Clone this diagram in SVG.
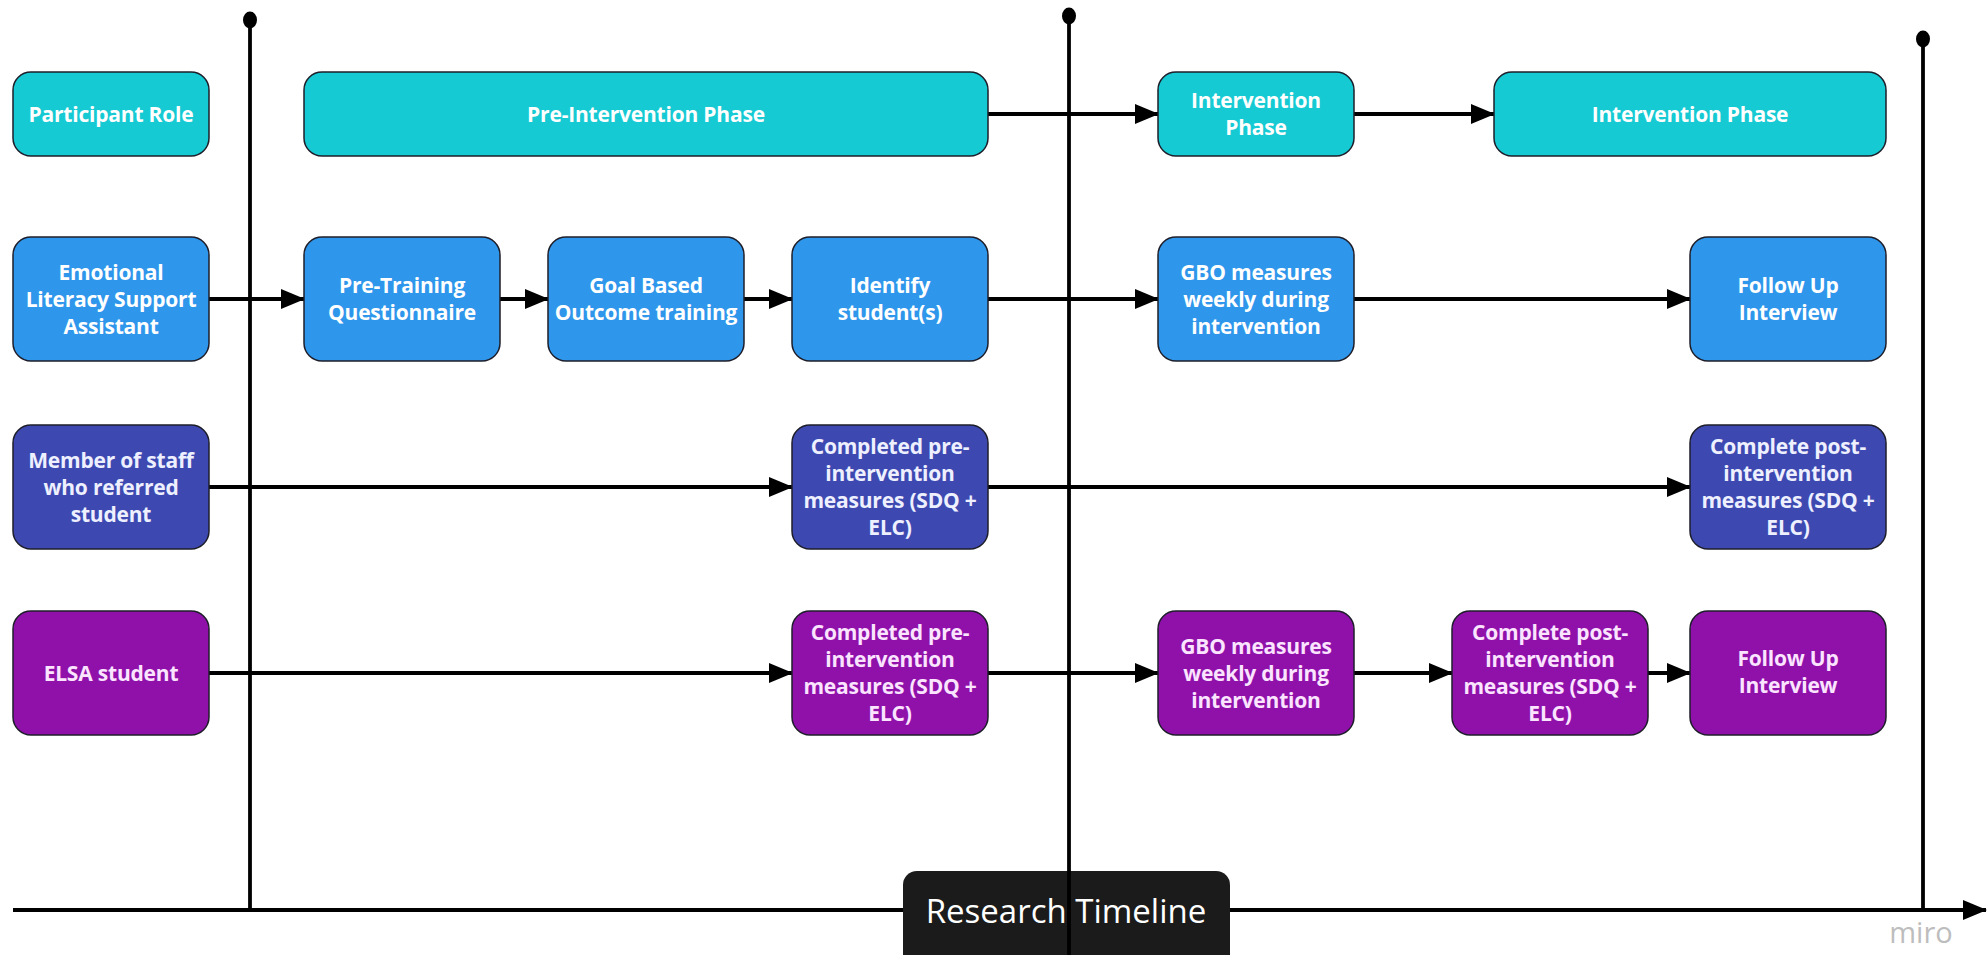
<svg xmlns="http://www.w3.org/2000/svg" width="1988" height="955" viewBox="0 0 1988 955">
<style>
.box{stroke:#1e1e2a;stroke-width:1.5}
.teal{fill:#16cad3}
.blue{fill:#2e96eb}
.indigo{fill:#3d49b1}
.purple{fill:#8f11aa}
.lbl{font-family:"Open Sans","Noto Sans","Liberation Sans",sans-serif;font-weight:bold;font-size:21px;letter-spacing:-0.2px;text-anchor:middle;fill:#ffffff}
.lblI{fill:#eef0ff}
.lblP{fill:#fbe4ff}
.edge{stroke:#000;stroke-width:3.8;fill:none}
.vline{stroke:#000;stroke-width:3.8;fill:none}
</style>
<defs>
<marker id="ah" markerUnits="userSpaceOnUse" markerWidth="24" markerHeight="20" viewBox="0 0 24 20" refX="23" refY="10" orient="auto">
<path d="M0,0 L24,10 L0,20 Z" fill="#000"/>
</marker>
</defs>
<rect width="1988" height="955" fill="#ffffff"/>

<g id="timeline">
<line class="edge" x1="13" y1="910" x2="1986" y2="910" marker-end="url(#ah)"/>
<line class="vline" x1="250" y1="20" x2="250" y2="910"/>
<ellipse cx="250" cy="20" rx="7" ry="8.5" fill="#000"/>
<line class="vline" x1="1923" y1="39" x2="1923" y2="910"/>
<ellipse cx="1923" cy="39" rx="7" ry="8.5" fill="#000"/>
</g>

<g id="connectors">
<line class="edge" x1="988" y1="114" x2="1158" y2="114" marker-end="url(#ah)"/>
<line class="edge" x1="1354" y1="114" x2="1494" y2="114" marker-end="url(#ah)"/>
<line class="edge" x1="209" y1="299" x2="304" y2="299" marker-end="url(#ah)"/>
<line class="edge" x1="500" y1="299" x2="548" y2="299" marker-end="url(#ah)"/>
<line class="edge" x1="744" y1="299" x2="792" y2="299" marker-end="url(#ah)"/>
<line class="edge" x1="988" y1="299" x2="1158" y2="299" marker-end="url(#ah)"/>
<line class="edge" x1="1354" y1="299" x2="1690" y2="299" marker-end="url(#ah)"/>
<line class="edge" x1="209" y1="487" x2="792" y2="487" marker-end="url(#ah)"/>
<line class="edge" x1="988" y1="487" x2="1690" y2="487" marker-end="url(#ah)"/>
<line class="edge" x1="209" y1="673" x2="792" y2="673" marker-end="url(#ah)"/>
<line class="edge" x1="988" y1="673" x2="1158" y2="673" marker-end="url(#ah)"/>
<line class="edge" x1="1354" y1="673" x2="1452" y2="673" marker-end="url(#ah)"/>
<line class="edge" x1="1648" y1="673" x2="1690" y2="673" marker-end="url(#ah)"/>
</g>

<g id="n-participant-role">
<rect class="box teal" x="13" y="72" width="196" height="84" rx="18"/>
<text class="lbl" x="111" y="121.5">Participant Role</text>
</g>
<g id="n-pre-intervention-phase">
<rect class="box teal" x="304" y="72" width="684" height="84" rx="18"/>
<text class="lbl" x="646" y="121.5">Pre-Intervention Phase</text>
</g>
<g id="n-intervention-phase-1">
<rect class="box teal" x="1158" y="72" width="196" height="84" rx="18"/>
<text class="lbl" x="1256" y="108"><tspan x="1256">Intervention</tspan><tspan x="1256" dy="27">Phase</tspan></text>
</g>
<g id="n-intervention-phase-2">
<rect class="box teal" x="1494" y="72" width="392" height="84" rx="18"/>
<text class="lbl" x="1690" y="121.5">Intervention Phase</text>
</g>

<g id="n-elsa-role">
<rect class="box blue" x="13" y="237" width="196" height="124" rx="18"/>
<text class="lbl" x="111" y="279.5"><tspan x="111">Emotional</tspan><tspan x="111" dy="27">Literacy Support</tspan><tspan x="111" dy="27">Assistant</tspan></text>
</g>
<g id="n-pre-training">
<rect class="box blue" x="304" y="237" width="196" height="124" rx="18"/>
<text class="lbl" x="402" y="293"><tspan x="402">Pre-Training</tspan><tspan x="402" dy="27">Questionnaire</tspan></text>
</g>
<g id="n-gbo-training">
<rect class="box blue" x="548" y="237" width="196" height="124" rx="18"/>
<text class="lbl" x="646" y="293"><tspan x="646">Goal Based</tspan><tspan x="646" dy="27">Outcome training</tspan></text>
</g>
<g id="n-identify">
<rect class="box blue" x="792" y="237" width="196" height="124" rx="18"/>
<text class="lbl" x="890" y="293"><tspan x="890">Identify</tspan><tspan x="890" dy="27">student(s)</tspan></text>
</g>
<g id="n-gbo-weekly-elsa">
<rect class="box blue" x="1158" y="237" width="196" height="124" rx="18"/>
<text class="lbl" x="1256" y="279.5"><tspan x="1256">GBO measures</tspan><tspan x="1256" dy="27">weekly during</tspan><tspan x="1256" dy="27">intervention</tspan></text>
</g>
<g id="n-followup-elsa">
<rect class="box blue" x="1690" y="237" width="196" height="124" rx="18"/>
<text class="lbl" x="1788" y="293"><tspan x="1788">Follow Up</tspan><tspan x="1788" dy="27">Interview</tspan></text>
</g>

<g id="n-staff-role">
<rect class="box indigo" x="13" y="425" width="196" height="124" rx="18"/>
<text class="lbl lblI" x="111" y="467.5"><tspan x="111">Member of staff</tspan><tspan x="111" dy="27">who referred</tspan><tspan x="111" dy="27">student</tspan></text>
</g>
<g id="n-staff-pre">
<rect class="box indigo" x="792" y="425" width="196" height="124" rx="18"/>
<text class="lbl lblI" x="890" y="454"><tspan x="890">Completed pre-</tspan><tspan x="890" dy="27">intervention</tspan><tspan x="890" dy="27">measures (SDQ +</tspan><tspan x="890" dy="27">ELC)</tspan></text>
</g>
<g id="n-staff-post">
<rect class="box indigo" x="1690" y="425" width="196" height="124" rx="18"/>
<text class="lbl lblI" x="1788" y="454"><tspan x="1788">Complete post-</tspan><tspan x="1788" dy="27">intervention</tspan><tspan x="1788" dy="27">measures (SDQ +</tspan><tspan x="1788" dy="27">ELC)</tspan></text>
</g>

<g id="n-student-role">
<rect class="box purple" x="13" y="611" width="196" height="124" rx="18"/>
<text class="lbl lblP" x="111" y="680.5">ELSA student</text>
</g>
<g id="n-student-pre">
<rect class="box purple" x="792" y="611" width="196" height="124" rx="18"/>
<text class="lbl lblP" x="890" y="640"><tspan x="890">Completed pre-</tspan><tspan x="890" dy="27">intervention</tspan><tspan x="890" dy="27">measures (SDQ +</tspan><tspan x="890" dy="27">ELC)</tspan></text>
</g>
<g id="n-student-gbo">
<rect class="box purple" x="1158" y="611" width="196" height="124" rx="18"/>
<text class="lbl lblP" x="1256" y="653.5"><tspan x="1256">GBO measures</tspan><tspan x="1256" dy="27">weekly during</tspan><tspan x="1256" dy="27">intervention</tspan></text>
</g>
<g id="n-student-post">
<rect class="box purple" x="1452" y="611" width="196" height="124" rx="18"/>
<text class="lbl lblP" x="1550" y="640"><tspan x="1550">Complete post-</tspan><tspan x="1550" dy="27">intervention</tspan><tspan x="1550" dy="27">measures (SDQ +</tspan><tspan x="1550" dy="27">ELC)</tspan></text>
</g>
<g id="n-student-followup">
<rect class="box purple" x="1690" y="611" width="196" height="124" rx="18"/>
<text class="lbl lblP" x="1788" y="666"><tspan x="1788">Follow Up</tspan><tspan x="1788" dy="27">Interview</tspan></text>
</g>

<g id="n-research-timeline">
<rect x="903" y="871" width="327" height="100" rx="14" fill="#1b1b1b"/>
<text x="1066" y="923" font-family="'Open Sans','Noto Sans',sans-serif" font-size="33" fill="#ffffff" text-anchor="middle">Research Timeline</text>
</g>
<g id="divider-mid">
<line class="vline" x1="1069" y1="16" x2="1069" y2="955"/>
<ellipse cx="1069" cy="16" rx="7" ry="8.5" fill="#000"/>
</g>
<text x="1921" y="943" font-family="'Open Sans','Noto Sans',sans-serif" font-size="29" fill="#bdbdbd" text-anchor="middle">miro</text>
</svg>
